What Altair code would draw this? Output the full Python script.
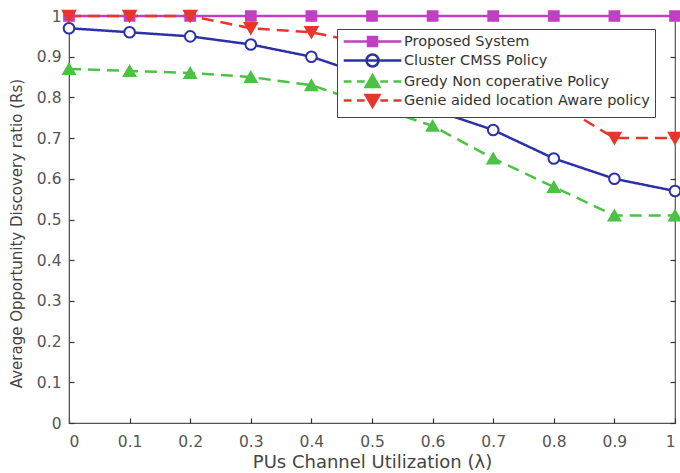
import altair as alt
import pandas as pd

x_vals = [0, 0.1, 0.2, 0.3, 0.4, 0.5, 0.6, 0.7, 0.8, 0.9, 1.0]
proposed = [1, 1, 1, 1, 1, 1, 1, 1, 1, 1, 1]
cluster = [0.97, 0.96, 0.95, 0.93, 0.90, 0.85, 0.77, 0.72, 0.65, 0.60, 0.57]
greedy = [0.87, 0.865, 0.86, 0.85, 0.83, 0.78, 0.73, 0.65, 0.58, 0.51, 0.51]
genie = [1.0, 1.0, 1.0, 0.97, 0.96, 0.93, 0.90, 0.85, 0.79, 0.70, 0.70]
series_names = ["Proposed System", "Cluster CMSS Policy",
                "Gredy Non coperative Policy", "Genie aided location Aware policy"]
y_ticks = [0, 0.1, 0.2, 0.3, 0.4, 0.5, 0.6, 0.7, 0.8, 0.9, 1.0]

rows = []
for name, vals in zip(series_names, [proposed, cluster, greedy, genie]):
    for xv, yv in zip(x_vals, vals):
        rows.append({"series": name, "x": xv, "y": yv})
df = pd.DataFrame(rows)

colors = ["#c03fc2", "#2b32a6", "#4bc244", "#e8362c"]
fills = ["#c03fc2", "#ffffff", "#4bc244", "#e8362c"]
shapes = ["square", "circle", "triangle-up", "triangle-down"]
sizes = [95, 150, 170, 170]
dashes = [[1, 0], [1, 0], [12, 7], [12, 7]]

solid = "M-4.8,0H4.8"
dashed = "M-4.8,0H-3.5M-2.6,0H-1.3M1.3,0H2.6M3.5,0H4.8"
sq = "M-0.75,-0.75H0.75V0.75H-0.75Z"
circ = "M-1,0A1,1 0 1,0 1,0A1,1 0 1,0 -1,0Z"
tri_up = "M0,-1.05L1.15,0.9L-1.15,0.9Z"
tri_dn = "M0,1.05L1.15,-0.9L-1.15,-0.9Z"
legend_shapes = [solid + sq, solid + circ, dashed + tri_up, dashed + tri_dn]

font = "DejaVu Sans"
tick_font = 15.5
grey = "#555"

common_axis = dict(grid=False, domainColor=grey, labelColor=grey, titleColor="#444",
                   labelFontSize=tick_font, labelFont=font,
                   titleFont=font, titleFontWeight="normal", tickColor=grey)

xenc = alt.X("x:Q", scale=alt.Scale(domain=[0, 1], nice=False),
             axis=alt.Axis(values=x_vals, format="~g", title="PUs Channel Utilization (λ)",
                           titleFontSize=18,
                           tickSize=0, labelPadding=11, titlePadding=4, **common_axis))
yenc = alt.Y("y:Q", scale=alt.Scale(domain=[0, 1], nice=False),
             axis=alt.Axis(values=y_ticks, format="~g",
                           title="Average Opportunity Discovery ratio (Rs)",
                           titleFontSize=15, titleY=217,
                           tickSize=0, labelPadding=8, titlePadding=12, **common_axis))

inner = dict(title=None, labels=False, domain=False, ticks=True, tickSize=5,
             tickColor="#333", tickWidth=1.2, tickOpacity=1, grid=False)

lines = alt.Chart(df).mark_line(strokeWidth=2.5).encode(
    x=xenc, y=yenc,
    color=alt.Color("series:N", scale=alt.Scale(domain=series_names, range=colors), legend=None),
    strokeDash=alt.StrokeDash("series:N", scale=alt.Scale(domain=series_names, range=dashes),
                              legend=None),
    order="x:Q",
)

points = alt.Chart(df).mark_point(filled=False, strokeWidth=2, opacity=1).encode(
    x=alt.X("x:Q", axis=alt.Axis(values=x_vals, orient="top", offset=-407, **inner)),
    y=alt.Y("y:Q", axis=alt.Axis(values=y_ticks, orient="right", offset=-606, **inner)),
    shape=alt.Shape("series:N", scale=alt.Scale(domain=series_names, range=shapes), legend=None),
    stroke=alt.Stroke("series:N", scale=alt.Scale(domain=series_names, range=colors), legend=None),
    fill=alt.Fill("series:N", scale=alt.Scale(domain=series_names, range=fills), legend=None),
    size=alt.Size("series:N", scale=alt.Scale(domain=series_names, range=sizes), legend=None),
)

leg = alt.Legend(title=None, orient="none", legendX=268, legendY=13,
                 symbolSize=144, symbolOffset=23, labelOffset=24, labelLimit=0,
                 labelFontSize=14.5, labelFont=font, labelColor="#333",
                 rowPadding=-2, padding=5, strokeColor="#444", fillColor="white",
                 symbolStrokeWidth=2.5, symbolOpacity=1)

legend_layer = alt.Chart(df).transform_filter(alt.datum.x < -1).mark_point(
    filled=False, strokeWidth=2.5).encode(
    x=alt.X("x:Q", axis=alt.Axis(values=x_vals, orient="bottom", offset=-407, **inner)),
    y=alt.Y("y:Q", axis=alt.Axis(values=y_ticks, orient="left", offset=-606, **inner)),
    shape=alt.Shape("series:N", scale=alt.Scale(domain=series_names, range=legend_shapes),
                    legend=leg),
    stroke=alt.Stroke("series:N", scale=alt.Scale(domain=series_names, range=colors), legend=leg),
    fill=alt.Fill("series:N", scale=alt.Scale(domain=series_names, range=fills), legend=leg),
)

chart = alt.layer(lines, points, legend_layer).resolve_scale(
    shape="independent", stroke="independent", fill="independent"
).resolve_axis(x="independent", y="independent").properties(
    width=606, height=407,
    autosize=alt.AutoSizeParams(type="none"),
    padding={"left": 69, "top": 16, "right": 5, "bottom": 50},
    background="white",
).configure_view(stroke="#555", strokeWidth=1.2)

chart.save("out.html", embed_options={"renderer": "svg", "actions": False})
